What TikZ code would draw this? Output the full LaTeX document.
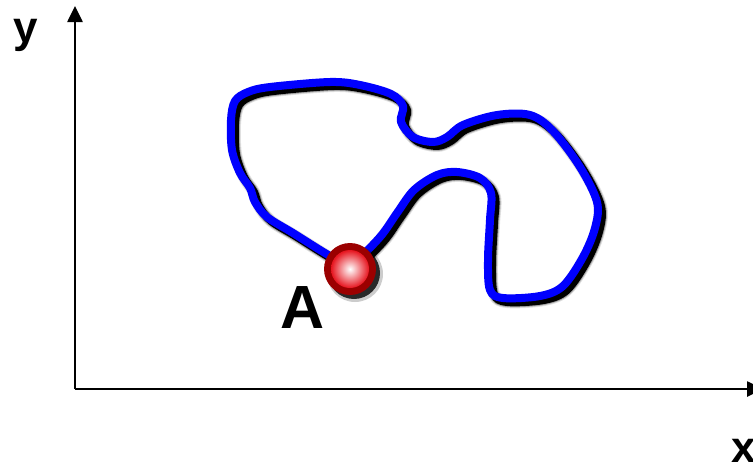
\documentclass[tikz,border=0pt]{standalone}
\usepackage{fontspec}
\setmainfont{Liberation Sans}
\usetikzlibrary{arrows.meta}
\definecolor{ringred}{RGB}{155,0,0}
\definecolor{ballred}{RGB}{230,20,30}
\tikzset{
  axis/.style={line width=2.6pt, -{Triangle[length=16pt,width=15pt]}},
  axislabel/.style={font=\bfseries\fontsize{44}{44}\selectfont, inner sep=0pt},
  pathline/.style={line width=8pt, blue, line cap=round, line join=round},
  pathshadow/.style={line width=#1, black, line cap=round, line join=round},
}
\begin{document}
\begin{tikzpicture}[x=1pt,y=-1pt]
\useasboundingbox (0,0) rectangle (753,466);

% axes
\coordinate (O) at (75,389);
\coordinate (ytip) at (75,6);
\coordinate (xtip) at (763,389);
\draw[axis] (O) -- (ytip);
\draw[axis] (O) -- (xtip);
\node[axislabel, anchor=base] (ylab) at (26,42) {y};
\node[axislabel, anchor=base west] (xlab) at (731,462) {x};

% the closed trajectory
\def\trajectory{plot[smooth, tension=0.55] coordinates {
 (350,268) (320,250) (293,233) (267,217) (255,202) (250,188) (240,173)
 (232,150) (231,120) (235,101) (248,92) (270,87) (330,82) (360,85)
 (391,94) (403,106) (401,122) (413,137) (433,142) (447,137) (463,125)
 (497,115) (530,115) (553,131) (580,167) (597,202) (595,228) (583,257)
 (563,286) (540,296) (503,298) (490,290) (488,260) (490,220) (491,193)
 (480,178) (457,172) (437,175) (414,190) (397,213) (380,237) (350,268)}}

% soft drop shadow
\begin{scope}[shift={(4,4)}]
  \draw[pathshadow=12pt, opacity=0.12] \trajectory;
  \draw[pathshadow=10pt, opacity=0.25] \trajectory;
  \draw[pathshadow=8pt] \trajectory;
\end{scope}
\draw[pathline] \trajectory;

% the point A
\fill[black, opacity=0.2] (355,274) circle (28);
\fill[black, opacity=0.8] (354,273) circle (26);
\node[circle, fill=ringred, minimum size=52pt, inner sep=0pt] (A) at (350,269) {};
\shade[inner color=white, outer color=ballred] (A.center) circle (19);
\node[font=\bfseries\fontsize{61}{61}\selectfont, inner sep=0pt, anchor=base] (Alab) at (303,328) {A};
\end{tikzpicture}
\end{document}
